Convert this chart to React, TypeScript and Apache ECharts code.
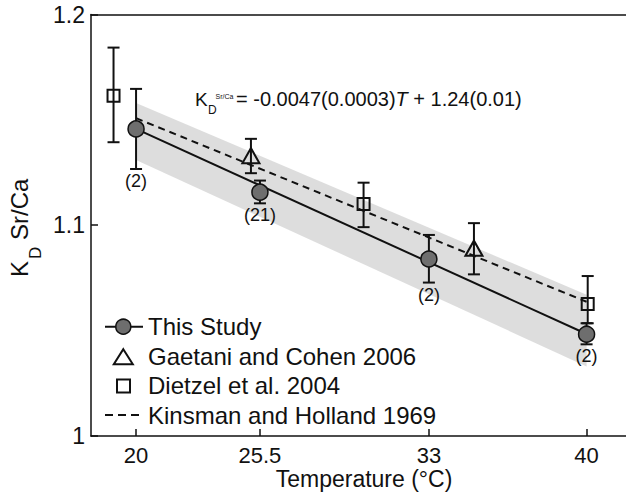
import React, { useEffect, useRef } from 'react';
import * as echarts from 'echarts';

const FONT = '"Liberation Sans", Arial, Helvetica, sans-serif';
const INK = '#111111';

// Axis ticks
const xTicks = [20, 25.5, 33, 40];

// This Study (filled circles) with error bars and sample counts
const studyT = [20, 25.5, 33, 40];
const studyK = [1.1457, 1.1157, 1.084, 1.0483];
const studyLo = [1.1267, 1.1104, 1.0728, 1.0435];
const studyHi = [1.1647, 1.1212, 1.0954, 1.0535];
const studyN = ['(2)', '(21)', '(2)', '(2)'];

// Gaetani and Cohen 2006 (open triangles)
const gaetaniT = [25.1, 35.0];
const gaetaniK = [1.1330, 1.0891];
const gaetaniLo = [1.1247, 1.0767];
const gaetaniHi = [1.141, 1.101];

// Dietzel et al. 2004 (open squares)
const dietzelT = [19.0, 30.1, 40.05];
const dietzelK = [1.1614, 1.1101, 1.0626];
const dietzelLo = [1.1394, 1.0991, 1.0535];
const dietzelHi = [1.1843, 1.1202, 1.0759];

// Kinsman and Holland 1969 (dashed)
const kinsmanT = [20, 40];
const kinsmanK = [1.1508, 1.0637];

// Regression line of this study and its confidence band
const fitT = [20, 40];
const fitK = [1.1457, 1.0484];
const bandT = [20, 40];
const bandUpper = [1.158, 1.067];
const bandLower = [1.131, 1.033];

const errorBarSeries = (T: number[], K: number[], lo: number[], hi: number[]) => ({
  type: 'custom',
  data: T.map((t, i) => [t, K[i], lo[i], hi[i]]),
  encode: { x: 0, y: 1 },
  z: 3,
  silent: true,
  renderItem: (params: any, api: any) => {
    const x = api.value(0);
    const a = api.coord([x, api.value(3)]);
    const b = api.coord([x, api.value(2)]);
    const w = 6;
    const style = { stroke: INK, lineWidth: 2 };
    return {
      type: 'group',
      children: [
        { type: 'line', shape: { x1: a[0], y1: a[1], x2: b[0], y2: b[1] }, style },
        { type: 'line', shape: { x1: a[0] - w, y1: a[1], x2: a[0] + w, y2: a[1] }, style },
        { type: 'line', shape: { x1: b[0] - w, y1: b[1], x2: b[0] + w, y2: b[1] }, style },
      ],
    };
  },
});

const txt = (x: number, y: number, text: string, fontSize: number, extra: any = {}) => ({
  type: 'text',
  x,
  y,
  silent: true,
  style: {
    text,
    fontSize,
    fontFamily: FONT,
    fill: INK,
    align: 'left',
    verticalAlign: 'middle',
    ...extra,
  },
});

export default function App() {
  const ref = useRef<HTMLDivElement>(null);

  useEffect(() => {
    if (!ref.current) return;
    const chart = echarts.init(ref.current, null, { renderer: 'svg' });
    const axisLineStyle = { color: INK, width: 1.5 };

    const option: any = {
      animation: false,
      backgroundColor: '#ffffff',
      grid: { left: 91, right: 0, top: 14.5, bottom: 60 },
      xAxis: [
        {
          type: 'value',
          min: 18,
          max: 41.75,
          position: 'bottom',
          axisLine: { show: true, onZero: false, lineStyle: axisLineStyle },
          axisTick: { show: true, inside: true, length: 7, customValues: xTicks, lineStyle: axisLineStyle },
          axisLabel: {
            customValues: xTicks,
            fontSize: 22,
            fontFamily: FONT,
            color: INK,
            margin: 8,
            formatter: (v: number) => String(v),
          },
          splitLine: { show: false },
        },
        {
          type: 'value',
          min: 18,
          max: 41.75,
          position: 'top',
          axisLine: { show: true, onZero: false, lineStyle: axisLineStyle },
          axisTick: { show: false },
          axisLabel: { show: false },
          splitLine: { show: false },
        },
      ],
      yAxis: {
        type: 'value',
        min: 1,
        max: 1.2,
        interval: 0.1,
        axisLine: { show: true, onZero: false, lineStyle: axisLineStyle },
        axisTick: { show: true, inside: true, length: 7, lineStyle: axisLineStyle },
        axisLabel: {
          fontSize: 23,
          fontFamily: FONT,
          color: INK,
          margin: 6,
          padding: [7, 0, 0, 0],
          formatter: (v: number) => String(Math.round(v * 10) / 10),
        },
        splitLine: { show: false },
      },
      series: [
        {
          type: 'custom',
          data: [[bandT[0], bandUpper[0]]],
          encode: { x: 0, y: 1 },
          z: 1,
          silent: true,
          renderItem: (params: any, api: any) => {
            const pts: number[][] = [];
            bandT.forEach((t, i) => pts.push(api.coord([t, bandUpper[i]])));
            for (let i = bandT.length - 1; i >= 0; i--) pts.push(api.coord([bandT[i], bandLower[i]]));
            return { type: 'polygon', shape: { points: pts }, style: { fill: 'rgba(160,160,160,0.36)' } };
          },
        },
        {
          type: 'line',
          data: kinsmanT.map((t, i) => [t, kinsmanK[i]]),
          symbol: 'none',
          z: 2,
          silent: true,
          lineStyle: { color: INK, width: 2, type: [7, 5] },
        },
        {
          type: 'line',
          data: fitT.map((t, i) => [t, fitK[i]]),
          symbol: 'none',
          z: 2,
          silent: true,
          lineStyle: { color: INK, width: 2 },
        },
        errorBarSeries(studyT, studyK, studyLo, studyHi),
        errorBarSeries(gaetaniT, gaetaniK, gaetaniLo, gaetaniHi),
        errorBarSeries(dietzelT, dietzelK, dietzelLo, dietzelHi),
        {
          type: 'scatter',
          data: studyT.map((t, i) => [t, studyK[i]]),
          symbol: 'circle',
          symbolSize: 16,
          z: 5,
          silent: true,
          itemStyle: { color: '#6e6e6e', borderColor: INK, borderWidth: 1.5, opacity: 1 },
        },
        {
          type: 'scatter',
          data: gaetaniT.map((t, i) => [t, gaetaniK[i]]),
          symbol: 'triangle',
          symbolSize: [17, 15],
          z: 5,
          silent: true,
          itemStyle: { color: 'rgba(0,0,0,0)', borderColor: INK, borderWidth: 2, opacity: 1 },
        },
        {
          type: 'scatter',
          data: dietzelT.map((t, i) => [t, dietzelK[i]]),
          symbol: 'rect',
          symbolSize: 12,
          z: 5,
          silent: true,
          itemStyle: { color: 'rgba(0,0,0,0)', borderColor: INK, borderWidth: 2, opacity: 1 },
        },
        {
          type: 'custom',
          data: studyT.map((t, i) => [t, studyLo[i]]),
          encode: { x: 0, y: 1 },
          z: 6,
          silent: true,
          renderItem: (params: any, api: any) => {
            const p = api.coord([api.value(0), api.value(1)]);
            return {
              type: 'text',
              x: p[0],
              y: p[1] + 3,
              style: {
                text: studyN[params.dataIndex],
                fontSize: 18,
                fontFamily: FONT,
                fill: INK,
                align: 'center',
                verticalAlign: 'top',
              },
            };
          },
        },
      ],
      graphic: [
        // equation
        txt(195, 99, 'K', 19),
        txt(208, 109.5, 'D', 12),
        txt(215.5, 96.5, 'Sr/Ca', 7),
        {
          type: 'text',
          x: 236,
          y: 99,
          silent: true,
          style: {
            text: '{a|= -0.0047(0.0003)}{t|T}{a| + 1.24(0.01)}',
            fontSize: 20,
            fontFamily: FONT,
            fill: INK,
            verticalAlign: 'middle',
            rich: {
              a: { fontSize: 20, fontFamily: FONT, fill: INK },
              t: { fontSize: 20, fontFamily: FONT, fontStyle: 'italic', fill: INK },
            },
          },
        },
        // y axis title
        {
          type: 'group',
          x: 19.5,
          y: 228,
          rotation: Math.PI / 2,
          children: [
            txt(-49, 0, 'K', 24),
            txt(-31, 16, 'D', 17),
            txt(-12, 0, 'Sr/Ca', 24),
          ],
        },
        // x axis title
        txt(364, 479, 'Temperature (°C)', 23, { align: 'center' }),
        // legend
        { type: 'line', silent: true, shape: { x1: 105, y1: 326.7, x2: 143, y2: 326.7 }, style: { stroke: INK, lineWidth: 2 } },
        { type: 'circle', silent: true, shape: { cx: 123.3, cy: 326.7, r: 7.5 }, style: { fill: '#6e6e6e', stroke: INK, lineWidth: 1.5 } },
        txt(148, 326, 'This Study', 24),
        {
          type: 'polygon',
          silent: true,
          shape: { points: [[123.3, 349.2], [132.8, 364.2], [113.8, 364.2]] },
          style: { fill: 'none', stroke: INK, lineWidth: 2 },
        },
        txt(148, 356, 'Gaetani and Cohen 2006', 24),
        { type: 'rect', silent: true, shape: { x: 117, y: 379.5, width: 13, height: 13 }, style: { fill: 'none', stroke: INK, lineWidth: 2 } },
        txt(148, 385.5, 'Dietzel et al. 2004', 24),
        {
          type: 'line',
          silent: true,
          shape: { x1: 105, y1: 415, x2: 143, y2: 415 },
          style: { stroke: INK, lineWidth: 2, lineDash: [8, 5] },
        },
        txt(148, 415, 'Kinsman and Holland 1969', 24),
      ],
    };

    chart.setOption(option);
    return () => chart.dispose();
  }, []);

  return (
    <div
      ref={ref}
      style={{ position: 'fixed', left: 0, top: 0, width: 626, height: 496, background: '#fff' }}
    />
  );
}
